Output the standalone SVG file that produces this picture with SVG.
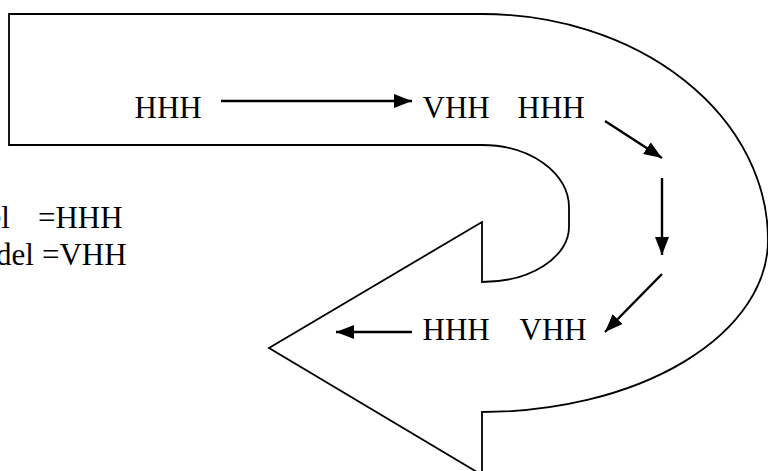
<svg xmlns="http://www.w3.org/2000/svg" width="768" height="471" viewBox="0 0 768 471">
  <style>
    .outline { fill: #ffffff; stroke: #000000; stroke-width: 1.8; stroke-linejoin: miter; }
    .lbl { font-family: "Liberation Serif", "Times New Roman", serif; font-size: 31px; fill: #000000; }
    .conn { stroke: #000000; stroke-width: 2.4; fill: none; marker-end: url(#head); }
  </style>
  <defs>
    <marker id="head" markerUnits="userSpaceOnUse" markerWidth="19" markerHeight="15" refX="18" refY="7" orient="auto">
      <path d="M0,0 L18,7 L0,14 Z" fill="#000000"/>
    </marker>
  </defs>
  <rect width="768" height="471" fill="#ffffff"/>
  <g id="uturn-arrow">
    <path class="outline" d="M9,14 H482 A286 226 0 0 1 768 240 A286 172 0 0 1 482 412 V475 L269 348 L482 222 V282 A87 55 0 0 0 569 227 V207 A87 62 0 0 0 482 145 H9 Z"/>
  </g>
  <g id="legend">
    <text class="lbl" y="228"><tspan x="-12.5">el</tspan><tspan x="38">=HHH</tspan></text>
    <text class="lbl" y="265"><tspan x="-4">del</tspan><tspan x="42">=VHH</tspan></text>
  </g>
  <g id="node-hhh-1"><text class="lbl" x="134.5" y="118">HHH</text></g>
  <g id="node-vhh-1"><text class="lbl" x="422.5" y="118">VHH</text></g>
  <g id="node-hhh-2"><text class="lbl" x="517.5" y="118">HHH</text></g>
  <g id="node-hhh-3"><text class="lbl" x="422.5" y="340">HHH</text></g>
  <g id="node-vhh-2"><text class="lbl" x="519.5" y="340">VHH</text></g>
  <g id="connectors">
    <line class="conn" x1="221" y1="101" x2="412" y2="101"/>
    <line class="conn" x1="605" y1="121" x2="662" y2="158"/>
    <line class="conn" x1="662" y1="178" x2="662" y2="255"/>
    <line class="conn" x1="662" y1="274" x2="605" y2="332"/>
    <line class="conn" x1="412" y1="332" x2="336" y2="332"/>
  </g>
</svg>
